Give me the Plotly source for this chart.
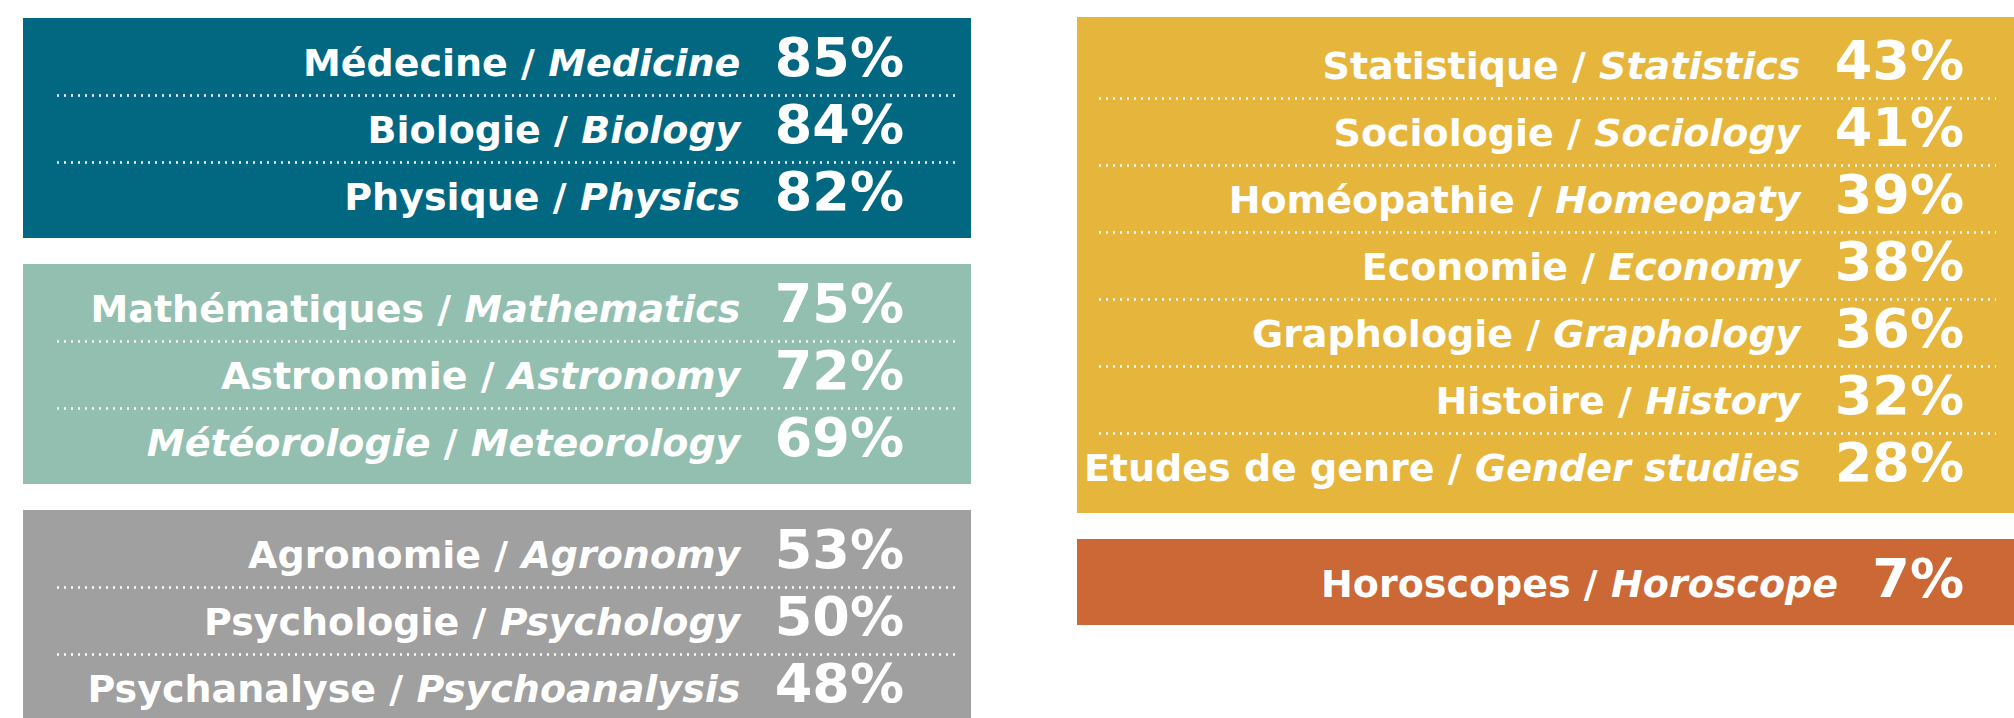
import plotly.graph_objects as go

# survey results: share of trust per discipline
fr_labels = ["Médecine", "Biologie", "Physique",
             "Mathématiques", "Astronomie", "Météorologie",
             "Agronomie", "Psychologie", "Psychanalyse",
             "Statistique", "Sociologie", "Homéopathie", "Economie",
             "Graphologie", "Histoire", "Etudes de genre",
             "Horoscopes"]
en_labels = ["Medicine", "Biology", "Physics",
             "Mathematics", "Astronomy", "Meteorology",
             "Agronomy", "Psychology", "Psychoanalysis",
             "Statistics", "Sociology", "Homeopaty", "Economy",
             "Graphology", "History", "Gender studies",
             "Horoscope"]
percent = [85, 84, 82, 75, 72, 69, 53, 50, 48, 43, 41, 39, 38, 36, 32, 28, 7]
group = [0, 0, 0, 1, 1, 1, 2, 2, 2, 3, 3, 3, 3, 3, 3, 3, 4]

group_colors = ["#026781", "#93bfb1", "#a0a0a0", "#e6b63c", "#cc6836"]
group_column = [0, 0, 0, 1, 1]

# layout (pixel units of the final page)
W, H = 2014, 718
row_step = 67
text_dy = 5
col_box_x = [(23, 971), (1077, 2040)]
col_text_right = [904, 1964]
col_dots_x = [(57, 957), (1099, 1996)]
col_top = [18, 17]
box_gap = 26
group_pad = [43, 43, 43, 47, 43]

fig = go.Figure()

col_cursor = list(col_top)
row_y = [0] * len(percent)
for g, color in enumerate(group_colors):
    c = group_column[g]
    idx = [i for i, gg in enumerate(group) if gg == g]
    top = col_cursor[c]
    pad = group_pad[g]
    bottom = top + 2 * pad + (len(idx) - 1) * row_step
    fig.add_shape(type="rect", xref="x", yref="y",
                  x0=col_box_x[c][0], x1=col_box_x[c][1], y0=top, y1=bottom + 40 * (g == 2),
                  fillcolor=color, line_width=0, layer="below")
    for k, i in enumerate(idx):
        row_y[i] = top + pad + k * row_step + text_dy
        if k > 0:
            yl = top + pad + (k - 0.5) * row_step + 1
            fig.add_shape(type="line", xref="x", yref="y",
                          x0=col_dots_x[c][0], x1=col_dots_x[c][1], y0=yl, y1=yl,
                          line=dict(color="white", width=2.5, dash="2px,5px"))
    col_cursor[c] = bottom + box_gap

texts = []
xs = []
for i in range(len(percent)):
    c = group_column[group[i]]
    fr = f"<i>{fr_labels[i]}</i>" if fr_labels[i] == "Météorologie" else fr_labels[i]
    texts.append(
        f"<span style='font-size:38px'><b>{fr} / <i>{en_labels[i]}</i></b></span>"
        f"<span style='font-size:54px'>&nbsp;&nbsp;<b>{percent[i]}%</b></span>")
    xs.append(col_text_right[c])

fig.add_trace(go.Scatter(
    x=xs, y=row_y, mode="text", text=texts, textposition="middle left",
    textfont=dict(family="DejaVu Sans", color="white", size=38),
    hoverinfo="skip", showlegend=False))

fig.update_xaxes(range=[0, W], visible=False, fixedrange=True)
fig.update_yaxes(range=[H, 0], visible=False, fixedrange=True)
fig.update_layout(width=W, height=H,
                  margin=dict(l=0, r=0, t=0, b=0),
                  paper_bgcolor="white", plot_bgcolor="white")

fig.write_html("out.html", config={"displayModeBar": False},
               post_script="document.body.style.margin='0';"
                           "document.body.style.overflow='hidden';")
